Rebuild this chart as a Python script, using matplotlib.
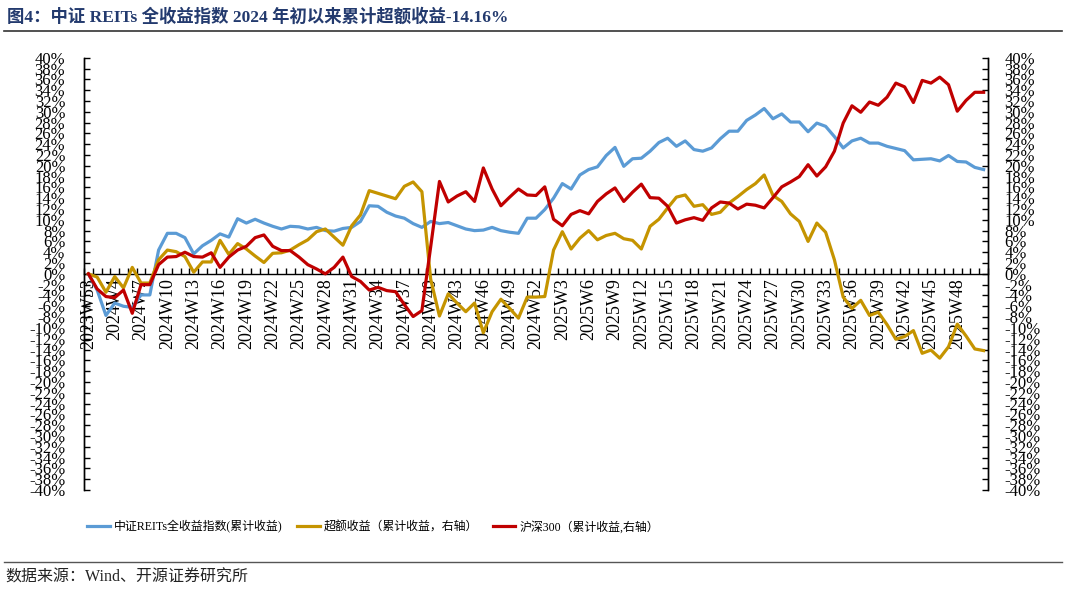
"""Cumulative excess return of the CSI REITs total return index since early 2024.

  python3 plot.py
"""

from __future__ import annotations

import matplotlib

matplotlib.use("Agg")
import matplotlib.pyplot as plt
import numpy as np
from matplotlib.lines import Line2D
from matplotlib.ticker import FixedLocator, PercentFormatter

# weekly labels: 2023W53, 2024W2..W52, 2025W1..W51
weeks = ["2023W53"] + [f"2024W{w}" for w in range(2, 53)] + [f"2025W{w}" for w in range(1, 52)]

reits = [
    0, -3.0, -7.7, -5.4, -6.0, -6.2, -3.9, -3.9, 4.4, 7.5,
    7.5, 6.7, 3.7, 5.2, 6.2, 7.4, 6.8, 10.2, 9.4, 10.1,
    9.4, 8.8, 8.3, 8.8, 8.7, 8.3, 8.6, 8.0, 7.9, 8.4,
    8.6, 9.7, 12.6, 12.5, 11.4, 10.7, 10.3, 9.3, 8.6, 9.7,
    9.3, 9.5, 8.9, 8.3, 8.0, 8.1, 8.6, 8.0, 7.7, 7.5,
    10.3, 10.3, 11.9, 14.0, 16.7, 15.7, 18.3, 19.3, 19.8, 21.9,
    23.4, 19.9, 21.3, 21.4, 22.7, 24.3, 25.1, 23.6, 24.6, 23.0,
    22.7, 23.3, 25.0, 26.4, 26.4, 28.4, 29.4, 30.6, 28.7, 29.6,
    28.1, 28.1, 26.3, 27.9, 27.3, 25.4, 23.3, 24.6, 25.1, 24.2,
    24.2, 23.6, 23.2, 22.8, 21.1, 21.2, 21.3, 20.9, 21.9, 20.8,
    20.7, 19.7, 19.3,
]

excess = [
    0, -0.6, -3.4, -0.5, -2.6, 1.2, -1.7, -1.7, 2.6, 4.4,
    4.1, 3.2, 0.3, 2.2, 2.2, 6.2, 3.6, 5.6, 4.6, 3.3,
    2.1, 3.8, 3.9, 4.4, 5.4, 6.3, 7.8, 8.3, 6.8, 5.3,
    8.9, 10.9, 15.4, 14.9, 14.4, 13.9, 16.2, 17.0, 15.2, -1.0,
    -7.8, -3.7, -5.4, -7.0, -5.4, -10.9, -7.0, -4.7, -6.4, -8.2,
    -4.3, -4.3, -4.2, 4.4, 7.8, 4.6, 6.6, 8.0, 6.3, 7.1,
    7.5, 6.5, 6.2, 4.6, 8.8, 10.1, 12.2, 14.2, 14.6, 12.5,
    12.8, 11.0, 11.4, 13.1, 14.3, 15.6, 16.7, 18.3, 14.5, 13.4,
    11.1, 9.7, 6.0, 9.4, 7.7, 2.6, -4.3, -6.4, -4.9, -7.7,
    -7.1, -9.4, -12.1, -11.6, -10.5, -14.7, -14.1, -15.6, -13.5, -9.3,
    -11.5, -13.9, -14.2,
]

csi300 = [
    0, -2.8, -4.2, -4.4, -3.0, -7.3, -2.0, -2.0, 1.7, 3.1,
    3.2, 4.0, 3.2, 3.1, 3.9, 1.2, 3.1, 4.4, 5.1, 6.7,
    7.2, 5.1, 4.3, 4.3, 3.1, 1.7, 0.9, 0.0, 1.2, 3.1,
    -0.5, -1.4, -3.0, -2.5, -3.1, -3.3, -5.7, -7.9, -6.8, 5.0,
    17.1, 13.3, 14.4, 15.2, 13.4, 19.6, 15.7, 12.6, 14.2, 15.7,
    14.6, 14.5, 16.1, 10.1, 8.9, 11.0, 11.7, 11.1, 13.4, 14.8,
    15.9, 13.4, 15.1, 16.6, 14.1, 14.0, 12.5, 9.4, 10.0, 10.4,
    9.9, 12.2, 13.3, 13.1, 12.0, 12.9, 12.7, 12.2, 14.1, 16.1,
    17.0, 18.0, 20.2, 18.1, 19.8, 22.7, 27.9, 31.1, 29.9, 31.8,
    31.2, 32.7, 35.3, 34.6, 31.7, 35.8, 35.3, 36.4, 35.0, 30.1,
    32.1, 33.6, 33.6,
]

series_names = [
    "中证REITs全收益指数(累计收益)",
    "超额收益（累计收益，右轴）",
    "沪深300（累计收益,右轴）",
]
colors = ["#5B9BD5", "#C59400", "#C00000"]

TITLE = "图4：中证 REITs 全收益指数 2024 年初以来累计超额收益-14.16%"
SOURCE = "数据来源：Wind、开源证券研究所"

SERIF_CJK = ["Liberation Serif", "Noto Sans CJK SC"]
W, H = 1066, 592


def _style_value_axis(axis, pad: float) -> None:
    axis.set_ylim(-40, 40)
    axis.yaxis.set_major_locator(FixedLocator(np.arange(-40, 41, 2)))
    axis.yaxis.set_major_formatter(PercentFormatter(decimals=0))
    axis.tick_params(axis="y", direction="in", length=4, width=1, pad=pad,
                     labelsize=12, colors="black")
    for lab in axis.get_yticklabels():
        lab.set_family("Liberation Serif")


def main() -> None:
    plt.rcParams["font.family"] = SERIF_CJK
    plt.rcParams["axes.unicode_minus"] = False

    fig = plt.figure(figsize=(W / 100, H / 100), dpi=100)
    ax = fig.add_axes([84 / W, 1 - 490 / H, 904 / W, 432.3 / H])
    ax2 = ax.twinx()

    x = np.arange(len(weeks))
    h1, = ax.plot(x, reits, color=colors[0], lw=2.3, label=series_names[0], zorder=3)
    h2, = ax2.plot(x, excess, color=colors[1], lw=2.3, label=series_names[1], zorder=3)
    h3, = ax2.plot(x, csi300, color=colors[2], lw=2.3, label=series_names[2], zorder=4)

    for a in (ax, ax2):
        a.set_xlim(-0.5, len(weeks) - 0.5)
        a.patch.set_visible(False)
        a.spines["top"].set_visible(False)
    _style_value_axis(ax, pad=13.5)
    _style_value_axis(ax2, pad=12)

    ax.spines["bottom"].set_position(("data", 0))
    ax2.spines["bottom"].set_visible(False)
    for side in ("left", "right", "bottom"):
        ax.spines[side].set_linewidth(1)
        ax2.spines[side].set_linewidth(1)

    # category boundaries carry the tick marks, every third week up to 2025W48 gets a label
    ax.xaxis.set_major_locator(FixedLocator(np.arange(-0.5, len(weeks), 1)))
    ax.xaxis.set_major_formatter(plt.NullFormatter())
    ax.tick_params(axis="x", which="major", direction="in", length=4, width=1)
    lab_idx = np.arange(0, len(weeks) - 3, 3)
    ax.xaxis.set_minor_locator(FixedLocator(lab_idx))
    ax.set_xticklabels([weeks[i] for i in lab_idx], minor=True, rotation=90,
                       family="Liberation Serif", fontsize=13, va="top", ha="center")
    ax.tick_params(axis="x", which="minor", length=0, pad=3)

    fig.legend(
        handles=[h1, h2, h3], labels=series_names,
        loc="center left", bbox_to_anchor=(87 / W, 1 - 527 / H),
        ncol=3, frameon=False, fontsize=8.6, handlelength=1.9,
        handletextpad=0.35, columnspacing=1.2, borderpad=0, borderaxespad=0,
    )

    fig.text(7 / W, 1 - 17 / H, TITLE, fontsize=12.5, fontweight="bold",
             color="#233A6E", va="center", ha="left")
    fig.add_artist(Line2D([4 / W, 1062 / W], [1 - 31 / H] * 2, color="#333333", lw=1.2))
    fig.add_artist(Line2D([4 / W, 1062 / W], [1 - 562 / H] * 2, color="#555555", lw=1.0))
    fig.text(5 / W, 1 - 578 / H, SOURCE, fontsize=11.5, color="#222222",
             va="center", ha="left")

    fig.savefig("out.png", dpi=100)
    plt.close(fig)


if __name__ == "__main__":
    main()
